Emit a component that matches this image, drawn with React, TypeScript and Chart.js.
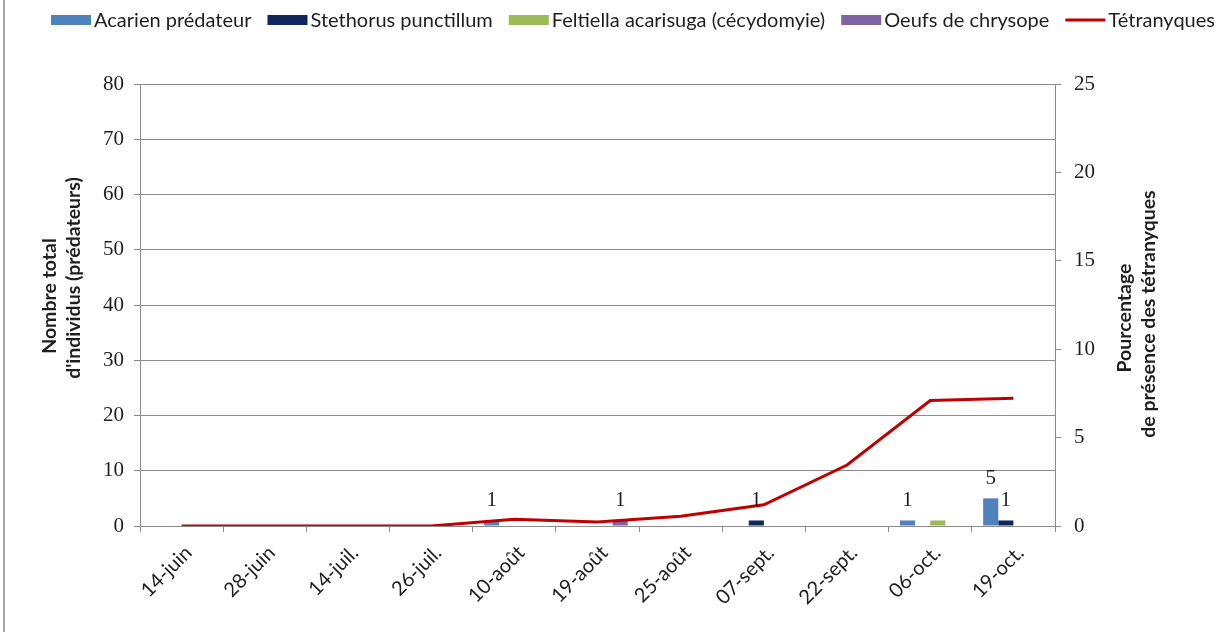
import React, { useEffect, useRef } from 'react';
import { Chart, registerables } from 'chart.js';

Chart.register(...registerables);

const categories = ['14-juin', '28-juin', '14-juil.', '26-juil.', '10-août', '19-août', '25-août', '07-sept.', '22-sept.', '06-oct.', '19-oct.'];
const acarien = [0, 0, 0, 0, 1, 0, 0, 0, 0, 1, 5];
const stethorus = [0, 0, 0, 0, 0, 0, 0, 1, 0, 0, 1];
const feltiella = [0, 0, 0, 0, 0, 0, 0, 0, 0, 1, 0];
const oeufs = [0, 0, 0, 0, 0, 1, 0, 0, 0, 0, 0];
const tetranyques = [0, 0, 0, 0, 0.38, 0.22, 0.55, 1.2, 3.45, 7.1, 7.22];

const leftTitle = ['Nombre total', "d'individus (prédateurs)"];
const rightTitle = ['Pourcentage', 'de présence des tétranyques'];

const SANS = 'Lato, "Open Sans", sans-serif';
const SERIF = '"Liberation Serif", serif';
const GRID = '#8c8c8c';
const TEXT = '#1e1e1e';

const extrasPlugin = {
  id: 'extras',
  beforeDraw(chart: any) {
    const ctx = chart.ctx;
    ctx.save();
    ctx.fillStyle = '#ffffff';
    ctx.fillRect(0, 0, chart.width, chart.height);
    ctx.fillStyle = '#a6a6a6';
    ctx.fillRect(3, 0, 2, chart.height);
    ctx.restore();
  },
  afterDatasetsDraw(chart: any) {
    const ctx = chart.ctx;
    ctx.save();
    ctx.font = `21px ${SERIF}`;
    ctx.fillStyle = TEXT;
    ctx.textAlign = 'center';
    ctx.textBaseline = 'alphabetic';
    chart.data.datasets.forEach((ds: any, di: number) => {
      if (!ds.showValues) return;
      const meta = chart.getDatasetMeta(di);
      ds.data.forEach((v: number, i: number) => {
        if (!v) return;
        const el = meta.data[i];
        ctx.fillText(String(v), el.x, el.y - 14);
      });
    });
    ctx.restore();
  },
  afterDraw(chart: any) {
    const ctx = chart.ctx;
    ctx.save();
    // legend
    ctx.font = `20px ${SANS}`;
    ctx.textBaseline = 'middle';
    ctx.textAlign = 'left';
    const order = chart.data.datasets
      .map((d: any, i: number) => ({ d, i }))
      .sort((a: any, b: any) => a.d.legendIndex - b.d.legendIndex);
    const boxW = 40;
    const gap = 3;
    const itemGap = 16;
    let total = 0;
    order.forEach((o: any, k: number) => {
      total += boxW + gap + ctx.measureText(o.d.label).width + (k < order.length - 1 ? itemGap : 0);
    });
    let x = 633 - total / 2;
    const y = 20;
    order.forEach((o: any) => {
      const d = o.d;
      if (d.type === 'line') {
        ctx.fillStyle = d.borderColor;
        ctx.fillRect(x, y - 1.5, boxW, 3);
      } else {
        ctx.fillStyle = d.backgroundColor;
        ctx.fillRect(x, y - 5, boxW, 10);
      }
      x += boxW + gap;
      ctx.fillStyle = TEXT;
      ctx.fillText(d.label, x, y + 1);
      x += ctx.measureText(d.label).width + itemGap;
    });
    // axis titles
    ctx.font = `bold 19.5px ${SANS}`;
    ctx.textAlign = 'center';
    ctx.textBaseline = 'middle';
    const drawRot = (text: string, cx: number, cy: number) => {
      ctx.save();
      ctx.translate(cx, cy);
      ctx.rotate(-Math.PI / 2);
      ctx.fillText(text, 0, 0);
      ctx.restore();
    };
    drawRot(leftTitle[0], 50, 296);
    drawRot(leftTitle[1], 74, 278);
    drawRot(rightTitle[0], 1125, 318);
    drawRot(rightTitle[1], 1149, 314);
    ctx.restore();
  },
};

export default function App() {
  const ref = useRef<HTMLCanvasElement | null>(null);
  useEffect(() => {
    if (!ref.current) return;
    const chart = new Chart(ref.current, {
      type: 'bar',
      data: {
        labels: categories,
        datasets: [
          {
            type: 'line',
            label: 'Tétranyques',
            data: tetranyques,
            yAxisID: 'y1',
            borderColor: '#c00000',
            backgroundColor: '#c00000',
            borderWidth: 3,
            pointRadius: 0,
            tension: 0,
            order: 0,
            legendIndex: 4,
          } as any,
          {
            label: 'Acarien prédateur',
            data: acarien,
            backgroundColor: '#4f81bd',
            yAxisID: 'y',
            order: 1,
            legendIndex: 0,
            showValues: true,
          } as any,
          {
            label: 'Stethorus punctillum',
            data: stethorus,
            backgroundColor: '#10275e',
            yAxisID: 'y',
            order: 1,
            legendIndex: 1,
            showValues: true,
          } as any,
          {
            label: 'Feltiella acarisuga (cécydomyie)',
            data: feltiella,
            backgroundColor: '#9bbb59',
            yAxisID: 'y',
            order: 1,
            legendIndex: 2,
          } as any,
          {
            label: 'Oeufs de chrysope',
            data: oeufs,
            backgroundColor: '#8064a2',
            yAxisID: 'y',
            order: 1,
            legendIndex: 3,
            showValues: true,
          } as any,
        ],
      },
      options: {
        responsive: false,
        animation: false,
        layout: { padding: { top: 84, left: 0, right: 0, bottom: 0 } },
        datasets: {
          bar: { categoryPercentage: 0.727, barPercentage: 1, borderWidth: 0 },
        },
        plugins: {
          legend: { display: false },
          tooltip: { enabled: false },
          title: { display: false },
        },
        scales: {
          x: {
            offset: true,
            grid: { display: true, drawOnChartArea: false, drawTicks: true, tickLength: 6, color: GRID, offset: true },
            border: { display: true, color: GRID },
            ticks: {
              font: { family: SANS, size: 20 },
              color: TEXT,
              minRotation: 45,
              maxRotation: 45,
              autoSkip: false,
              padding: 9,
              labelOffset: 7,
            },
            afterFit: (s: any) => {
              s.height = 106;
            },
          },
          y: {
            position: 'left',
            min: 0,
            max: 80,
            ticks: { stepSize: 10, font: { family: SERIF, size: 21 }, color: TEXT, padding: 10 },
            grid: { color: GRID, tickLength: 6 },
            border: { display: true, color: GRID },
            afterFit: (s: any) => {
              s.width = 140;
            },
          },
          y1: {
            position: 'right',
            min: 0,
            max: 25,
            ticks: { stepSize: 5, font: { family: SERIF, size: 21 }, color: TEXT, padding: 13 },
            grid: { drawOnChartArea: false, color: GRID, tickLength: 6 },
            border: { display: true, color: GRID },
            afterFit: (s: any) => {
              s.width = 169;
            },
          },
        },
      } as any,
      plugins: [extrasPlugin],
    });
    return () => chart.destroy();
  }, []);
  return (
    <div style={{ position: 'fixed', left: 0, top: 0, width: 1224, height: 632, background: '#fff' }}>
      <canvas ref={ref} width={1224} height={632} style={{ display: 'block', width: 1224, height: 632 }} />
    </div>
  );
}
